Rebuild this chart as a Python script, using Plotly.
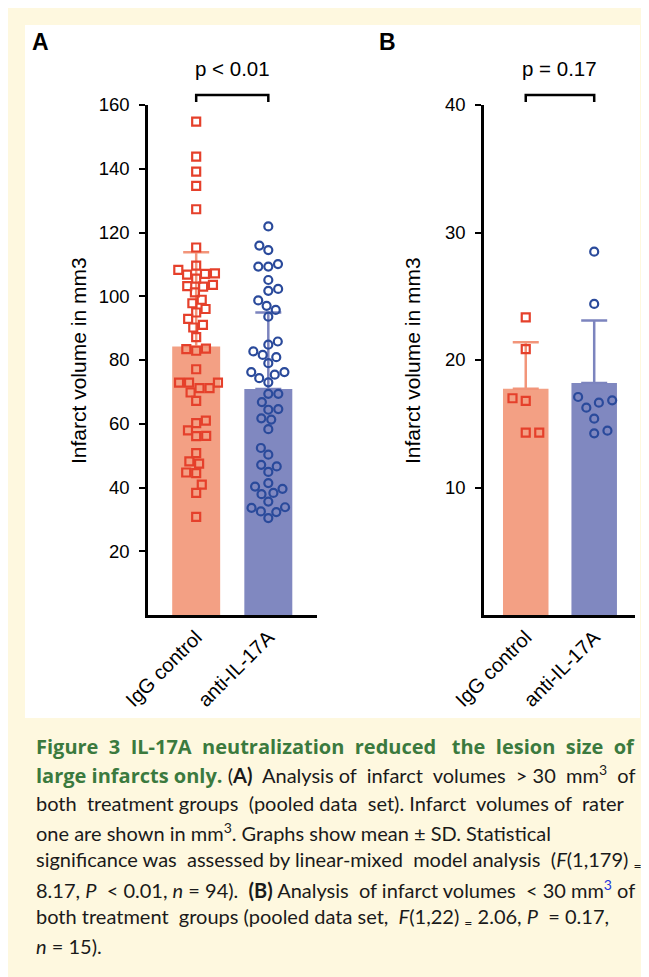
import numpy as np
import plotly.graph_objects as go

# page is 649x977; the html body has an 8px margin, so the figure is 641x969
PW, PH = 649, 977
BODY = 8
FW, FH = PW - BODY, PH - BODY

groups = ["IgG control", "anti-IL-17A"]

# ---- Panel A: infarct volumes > 30 mm3 ----
a_igg = [154.8, 143.8, 139.1, 134.6, 127.3, 115.3,
         109.6, 108.3, 107.2, 107.0, 106.8, 105.5, 103.6, 103.2, 103.0, 101.2,
         98.9, 97.8, 96.0, 94.9, 92.9, 91.0, 90.2,
         87.2, 83.6, 83.4, 82.9, 77.1, 72.9, 72.9, 72.9, 71.2, 71.2, 69.8, 67.2,
         61.0, 60.2, 57.9, 56.2, 56.1, 50.8, 48.2, 47.5, 44.7, 44.5, 40.9, 38.3, 30.8]
a_anti = [121.9, 115.9, 114.5, 110.1, 109.3, 109.3, 105.1, 102.3, 101.7, 98.7, 97.0, 95.7, 93.6,
          85.8, 84.8, 82.7, 81.6, 80.9, 79.0, 76.2, 76.2, 75.4, 74.3, 73.0, 69.4, 69.4, 66.8,
          64.6, 64.4, 61.7, 61.3, 58.3, 52.4, 50.3, 47.1, 46.6, 44.9, 41.4, 40.3, 39.6,
          38.3, 37.9, 35.6, 33.8, 33.6, 32.5, 32.3, 30.4]
a_mean = [84.2, 70.9]
a_sd = [29.6, 24.0]
a_ticks = [20, 40, 60, 80, 100, 120, 140, 160]

# ---- Panel B: infarct volumes < 30 mm3 ----
b_igg = [23.35, 20.86, 17.0, 16.8, 14.3, 14.3]
b_anti = [28.5, 24.4, 17.1, 16.84, 16.65, 16.26, 15.4, 14.46, 14.25]
b_mean = [17.75, 18.2]
b_sd = [3.65, 4.9]
b_ticks = [10, 20, 30, 40]

p_texts = ["p < 0.01", "p = 0.17"]
y_title = "Infarct volume in mm3"

# ---- styling ----
FONT = "Liberation Sans"
CAP_FONT = "Lato"
HEAD_FONT = "Open Sans"
bar_cols = ["#F3A084", "#8088C0"]
err_cols = ["#F2957A", "#7C84BE"]
pt_cols = ["#E5402B", "#2A4A9B"]
pt_syms = ["square-open", "circle-open"]
cream = "#FEF8DF"
green = "#3B7A3E"

# layout geometry in page pixels
yA_top, y_base = 105, 615
A_x = (148, 317)
B_x = (484, 635)
A_range = [-0.668, 1.675]
B_range = [-0.610, 1.596]
bar_w = 0.665


def px(x):
    return (x - BODY) / FW


def py(y):
    return 1 - (y - BODY) / FH


def swarm_offsets(values, ypx, xpx, d):
    vals = np.asarray(values, float)
    order = np.argsort(vals)
    offs = np.zeros(len(vals))
    placed = []
    total = 0.0
    for i in order:
        y = vals[i] * ypx
        iv = []
        for qx, qy in placed:
            dy = abs(y - qy)
            if dy < d:
                w = np.sqrt(d * d - dy * dy)
                iv.append((qx - w, qx + w))
        cands = [0.0] + [a for a, b in iv] + [b for a, b in iv]
        sgn = 1 if total > 0 else -1
        cands.sort(key=lambda c: (round(abs(c), 4), c * sgn))
        x = 0.0
        for c in cands:
            if all(not (a + 1e-6 < c < b - 1e-6) for a, b in iv):
                x = c
                break
        placed.append((x, y))
        total += x
        offs[i] = x / xpx
    return offs


def justify(text, extra, start=0):
    """Widen a caption line by adding `extra` non-breaking spaces over its word gaps."""
    gaps = []
    inside = False
    for i, ch in enumerate(text):
        if ch == "<":
            inside = True
        elif ch == ">":
            inside = False
        elif ch == " " and not inside and i >= start:
            gaps.append(i)
    if extra <= 0 or not gaps:
        return text
    counts = {}
    for k in range(extra):
        g = gaps[int((k + 0.5) * len(gaps) / extra) % len(gaps)]
        counts[g] = counts.get(g, 0) + 1
    out = []
    for i, ch in enumerate(text):
        out.append(ch)
        if i in counts:
            out.append("\u00a0" * counts[i])
    return "".join(out)


fig = go.Figure()

panels = [
    dict(xa="x", ya="y", means=a_mean, sds=a_sd, pts=[a_igg, a_anti], ymax=160,
         xpx=(A_x[1] - A_x[0]) / (A_range[1] - A_range[0]), d=10.0),
    dict(xa="x2", ya="y2", means=b_mean, sds=b_sd, pts=[b_igg, b_anti], ymax=40,
         xpx=(B_x[1] - B_x[0]) / (B_range[1] - B_range[0]), d=13.5),
]

for P in panels:
    ypx = (y_base - yA_top) / P["ymax"]
    for g in range(2):
        fig.add_trace(go.Bar(
            x=[g], y=[P["means"][g]], width=bar_w, xaxis=P["xa"], yaxis=P["ya"],
            marker=dict(color=bar_cols[g], line=dict(width=0)),
            error_y=dict(type="data", symmetric=False, array=[P["sds"][g]], arrayminus=[0],
                         color=err_cols[g], thickness=2.5, width=13),
            showlegend=False, hoverinfo="skip"))
    for g in range(2):
        vals = P["pts"][g]
        offs = swarm_offsets(vals, ypx, P["xpx"], P["d"])
        fig.add_trace(go.Scatter(
            x=g + offs, y=vals, mode="markers", xaxis=P["xa"], yaxis=P["ya"],
            marker=dict(symbol=pt_syms[g], size=8, color=pt_cols[g],
                        line=dict(width=2.2, color=pt_cols[g])),
            cliponaxis=False, showlegend=False, hoverinfo="skip"))

ydom = [py(y_base), py(yA_top)]
common_x = dict(showline=True, linecolor="black", linewidth=2.5, ticks="", showgrid=False,
                zeroline=False, tickvals=[0, 1], ticktext=groups, tickangle=-45,
                automargin=False,
                tickfont=dict(family=FONT, size=20, color="black"))
common_y = dict(showline=True, linecolor="black", linewidth=2.5, ticks="outside", ticklen=6,
                tickwidth=2, tickcolor="black", showgrid=False, zeroline=False,
                automargin=False,
                tickfont=dict(family=FONT, size=18.5, color="black"), ticklabelstandoff=6)

shapes = [
    dict(type="rect", xref="paper", yref="paper", x0=px(25), x1=px(640), y0=py(718), y1=py(25),
         fillcolor="white", line=dict(width=0), layer="below"),
]
for xa in ["x", "x2"]:
    shapes.append(dict(type="path", xref=xa, yref="paper",
                       path=f"M 0,{py(102)} L 0,{py(95)} L 1,{py(95)} L 1,{py(102)}",
                       line=dict(color="black", width=2.5)))

annotations = [
    dict(text="<b>A</b>", x=px(30), y=py(42), xref="paper", yref="paper", xanchor="left",
         yanchor="middle", showarrow=False, font=dict(family=FONT, size=23, color="black")),
    dict(text="<b>B</b>", x=px(377), y=py(42), xref="paper", yref="paper", xanchor="left",
         yanchor="middle", showarrow=False, font=dict(family=FONT, size=23, color="black")),
    dict(text=p_texts[0], x=0.5, xref="x", y=py(68), yref="paper", showarrow=False,
         xanchor="center", yanchor="middle", font=dict(family=FONT, size=20.5, color="black")),
    dict(text=p_texts[1], x=0.5, xref="x2", y=py(68), yref="paper", showarrow=False,
         xanchor="center", yanchor="middle", font=dict(family=FONT, size=20.5, color="black")),
    dict(text=y_title, x=px(78), y=py(361), xref="paper", yref="paper", xanchor="center",
         yanchor="middle", textangle=-90, showarrow=False,
         font=dict(family=FONT, size=21, color="black")),
    dict(text=y_title, x=px(412), y=py(361), xref="paper", yref="paper", xanchor="center",
         yanchor="middle", textangle=-90, showarrow=False,
         font=dict(family=FONT, size=21, color="black")),
]

G = f"<span style='color:{green};font-family:{HEAD_FONT}'><b>"
cap_lines = [
    f"{G}Figure 3 IL-17A neutralization reduced the lesion size of</b></span>",
    f"{G}large infarcts only.</b></span> (<b>A)</b> Analysis of infarct volumes > 30 mm<sup>3</sup> of",
    "both treatment groups (pooled data set). Infarct volumes of rater",
    "one are shown in mm<sup>3</sup>. Graphs show mean ± SD. Statistical",
    "significance was assessed by linear-mixed model analysis (<i>F</i>(1,179) <sub>=</sub>",
    "8.17, <i>P</i> < 0.01, <i>n</i> = 94). <b>(B)</b> Analysis of infarct volumes < 30 mm<span style='color:#2233dd'><sup>3</sup></span> of",
    "both treatment groups (pooled data set, <i>F</i>(1,22) <sub>=</sub> 2.06, <i>P</i> = 0.17,",
    "<i>n</i> = 15).",
]
cap_extra = [9, 6, 5, 0, 3, 4, 3, 0]
cap_start = [0, 95, 0, 0, 0, 0, 0, 0]
cap_y = [746, 775, 803, 832, 860, 889, 917, 946]
for t, ex, st, yy in zip(cap_lines, cap_extra, cap_start, cap_y):
    annotations.append(dict(text=justify(t, ex, st), x=px(34), y=py(yy), xref="paper",
                            yref="paper", xanchor="left", yanchor="middle", showarrow=False,
                            font=dict(family=CAP_FONT, size=20, color="#1a1a1a")))

fig.update_layout(
    width=FW, height=FH, margin=dict(l=0, r=0, t=0, b=0, pad=0), autosize=False,
    paper_bgcolor=cream, plot_bgcolor="rgba(0,0,0,0)",
    barmode="overlay", showlegend=False,
    xaxis=dict(domain=[px(A_x[0]), px(A_x[1])], range=A_range, anchor="y", **common_x),
    yaxis=dict(domain=ydom, range=[0, 160], tickvals=a_ticks, anchor="x", **common_y),
    xaxis2=dict(domain=[px(B_x[0]), px(B_x[1])], range=B_range, anchor="y2", **common_x),
    yaxis2=dict(domain=ydom, range=[0, 40], tickvals=b_ticks, anchor="x2", **common_y),
    shapes=shapes, annotations=annotations,
)

fig.write_html("out.html")
